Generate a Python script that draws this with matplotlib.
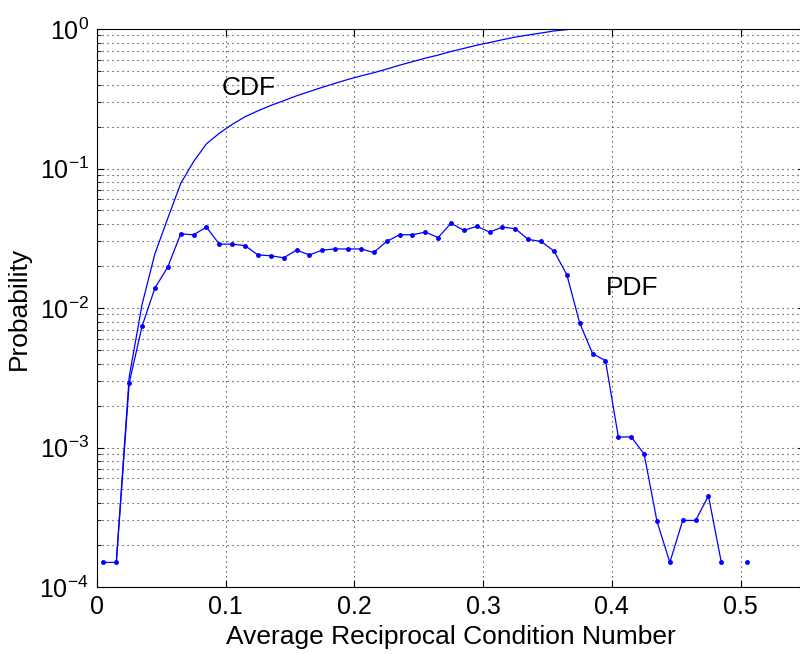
import numpy as np
import matplotlib
matplotlib.use('Agg')
import matplotlib.pyplot as plt
from matplotlib.ticker import LogLocator, MultipleLocator, NullFormatter

plt.rcParams['font.family'] = ['Liberation Sans', 'DejaVu Sans']
plt.rcParams['mathtext.default'] = 'regular'

# bin centres of the PDF histogram
pdf_x = [0.005, 0.015, 0.025, 0.035, 0.045, 0.055, 0.065, 0.075, 0.085, 0.095,
         0.105, 0.115, 0.125, 0.135, 0.145, 0.155, 0.165, 0.175, 0.185, 0.195,
         0.205, 0.215, 0.225, 0.235, 0.245, 0.255, 0.265, 0.275, 0.285, 0.295,
         0.305, 0.315, 0.325, 0.335, 0.345, 0.355, 0.365, 0.375, 0.385, 0.395,
         0.405, 0.415, 0.425, 0.435, 0.445, 0.455, 0.465, 0.475, 0.485, 0.495,
         0.505]
# nan = empty bin (not drawn on log axis)
pdf_y = [1.5e-4, 1.5e-4, 2.9e-3, 7.4e-3, 0.0139, 0.0197, 0.034, 0.0335, 0.038, 0.0287,
         0.0287, 0.028, 0.024, 0.0237, 0.0229, 0.026, 0.024, 0.026, 0.0265, 0.0265,
         0.0265, 0.025, 0.030, 0.0335, 0.0335, 0.035, 0.032, 0.0405, 0.036, 0.0385,
         0.035, 0.038, 0.037, 0.031, 0.030, 0.0256, 0.0173, 0.0078, 0.0047, 0.0042,
         1.19e-3, 1.19e-3, 9.0e-4, 2.96e-4, 1.5e-4, 3.0e-4, 3.0e-4, 4.5e-4, 1.5e-4, np.nan,
         1.5e-4]

cdf_x = [0.015, 0.025, 0.035, 0.045, 0.055, 0.065, 0.075, 0.085, 0.095,
         0.105, 0.115, 0.125, 0.135, 0.145, 0.155, 0.165, 0.175, 0.185, 0.195,
         0.205, 0.215, 0.225, 0.235, 0.245, 0.255, 0.265, 0.275, 0.285, 0.295,
         0.305, 0.315, 0.325, 0.335, 0.345, 0.355, 0.365]
cdf_y = [1.5e-4, 3.2e-3, 0.0106, 0.0245, 0.044, 0.078, 0.112, 0.150, 0.179,
         0.207, 0.235, 0.259, 0.283, 0.306, 0.332, 0.356, 0.382, 0.408, 0.435,
         0.461, 0.486, 0.516, 0.550, 0.583, 0.618, 0.650, 0.690, 0.726, 0.765,
         0.800, 0.838, 0.875, 0.906, 0.936, 0.968, 0.99]

fig = plt.figure(figsize=(8, 6.54), dpi=100)
ax = fig.add_axes([97/800, 67/654, 708/800, 558/654])

ax.plot(cdf_x, cdf_y, color='blue', lw=0.9)
ax.plot(pdf_x, pdf_y, color='blue', lw=0.9, marker='.', markersize=5)

ax.set_yscale('log')
ax.set_ylim(1e-4, 1)
ax.set_xlim(0, 0.55)
ax.xaxis.set_major_locator(MultipleLocator(0.1))
ax.xaxis.set_major_formatter(plt.FuncFormatter(lambda v, p: '0' if abs(v) < 1e-9 else '%g' % round(v, 2)))
ax.yaxis.set_major_locator(LogLocator(base=10, numticks=10))
ax.yaxis.set_minor_locator(LogLocator(base=10, subs=np.arange(2, 10), numticks=20))
ax.yaxis.set_minor_formatter(NullFormatter())

gstyle = dict(ls=(0, (1, 3.5)), color='0.15', lw=0.8)
ax.grid(True, which='major', axis='both', **gstyle)
ax.grid(True, which='minor', axis='y', **gstyle)
ax.tick_params(which='both', direction='in', top=True, right=True, labelsize=18, colors='black')
ax.tick_params(which='major', length=5, pad=6)
ax.tick_params(which='minor', length=3)
for s in ax.spines.values():
    s.set_color('black')
    s.set_linewidth(0.8)

ax.set_xlabel('Average Reciprocal Condition Number', fontsize=19, labelpad=4)
ax.set_ylabel('Probability', fontsize=19, labelpad=6)

ax.text(0.097, 0.38, 'CDF', fontsize=19, va='center', ha='left')
ax.text(0.395, 0.014, 'PDF', fontsize=19, va='center', ha='left')

fig.savefig('out.png', dpi=100, facecolor='white')
